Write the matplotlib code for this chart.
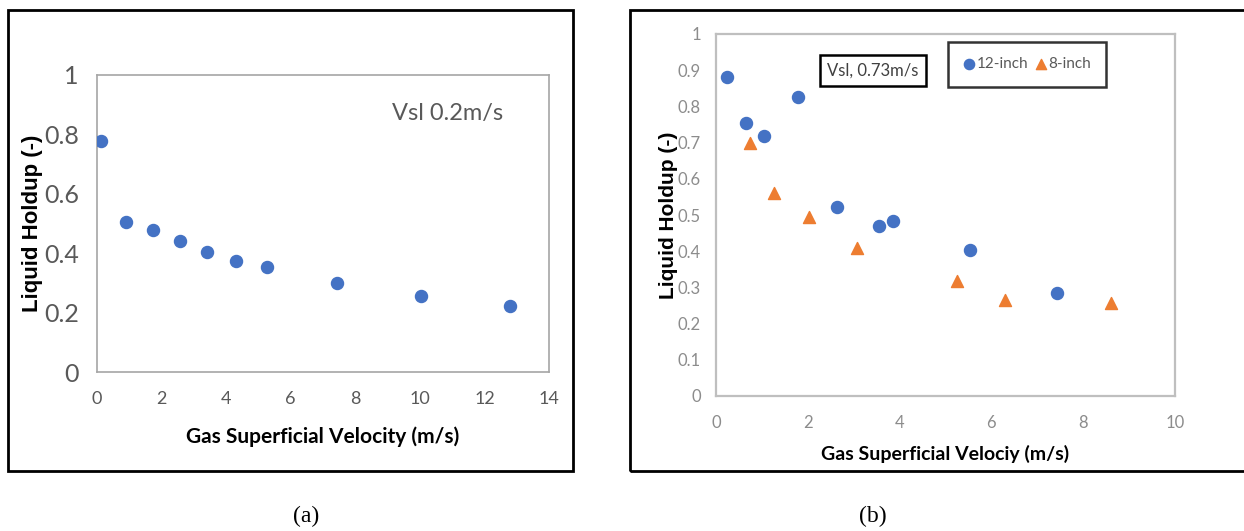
import matplotlib.pyplot as plt
from matplotlib.patches import Rectangle

# panneau (a) : Vsl 0.2 m/s
vsg_a = [0.12, 0.91, 1.74, 2.56, 3.42, 4.32, 5.25, 7.44, 10.02, 12.78]
hl_a = [0.778, 0.504, 0.478, 0.441, 0.405, 0.375, 0.354, 0.299, 0.257, 0.221]

# panneau (b) : Vsl 0.73 m/s, deux diametres
vsg_12 = [0.24, 0.66, 1.05, 1.79, 2.64, 3.56, 3.85, 5.53, 7.43]
hl_12 = [0.880, 0.754, 0.719, 0.827, 0.523, 0.469, 0.483, 0.404, 0.284]
vsg_8 = [0.74, 1.26, 2.02, 3.08, 5.26, 6.29, 8.61]
hl_8 = [0.698, 0.560, 0.494, 0.408, 0.318, 0.264, 0.256]

xticks_a = [0, 2, 4, 6, 8, 10, 12, 14]
yticks_a = [0, 0.2, 0.4, 0.6, 0.8, 1]
xticks_b = [0, 2, 4, 6, 8, 10]
yticks_b = [0, 0.1, 0.2, 0.3, 0.4, 0.5, 0.6, 0.7, 0.8, 0.9, 1]

BLUE = '#4472C4'
ORANGE = '#ED7D31'
NARROW = ['Lato', 'DejaVu Sans']
W, H = 1244, 531

fig = plt.figure(figsize=(W / 100, H / 100), dpi=100)


def px_axes(x0, y0, x1, y1):
    # coordonnees en pixels (origine en haut a gauche) -> fraction de figure
    return fig.add_axes([x0 / W, 1 - y1 / H, (x1 - x0) / W, (y1 - y0) / H])


def px_box(x0, y0, x1, y1, lw=2):
    fig.patches.append(Rectangle((x0 / W, 1 - y1 / H), (x1 - x0) / W, (y1 - y0) / H,
                                 transform=fig.transFigure, fill=False,
                                 edgecolor='black', linewidth=lw, clip_on=False))


def fmt(v):
    return '%g' % v


# cadres exterieurs
px_box(8, 10, 573, 471)
px_box(630, 10, 1260, 471)

# ---- (a)
ax = px_axes(97, 75, 549, 372)
ax.scatter(vsg_a, hl_a, s=75, color=BLUE, zorder=3)
ax.set_xlim(0, 14)
ax.set_ylim(0, 1)
ax.set_xticks(xticks_a)
ax.set_yticks(yticks_a)
ax.set_xticklabels([fmt(v) for v in xticks_a], family=NARROW, fontsize=13, color='#595959')
ax.set_yticklabels([fmt(v) for v in yticks_a], family=NARROW, fontsize=18, color='#595959')
ax.tick_params(axis='x', length=0, pad=14)
ax.tick_params(axis='y', length=0, pad=13)
for sp in ax.spines.values():
    sp.set_color('#a6a6a6')
    sp.set_linewidth(1.2)
ax.set_xlabel('Gas Superficial Velocity (m/s)', family=NARROW, fontsize=15,
              fontweight='bold', labelpad=14)
ax.set_ylabel('Liquid Holdup (-)', family='Liberation Sans', fontsize=16,
              fontweight='bold', labelpad=1)
ax.text(0.652, 0.87, 'Vsl 0.2m/s', transform=ax.transAxes, family=NARROW,
        fontsize=17, color='#595959', ha='left', va='center')

# ---- (b)
bx = px_axes(716, 34, 1175, 396)
bx.scatter(vsg_12, hl_12, s=75, color=BLUE, marker='o', zorder=3, label='12-inch')
bx.scatter(vsg_8, hl_8, s=75, color=ORANGE, marker='^', zorder=3, label='8-inch')
bx.set_xlim(0, 10)
bx.set_ylim(0, 1)
bx.set_xticks(xticks_b)
bx.set_yticks(yticks_b)
bx.set_xticklabels([fmt(v) for v in xticks_b], family=NARROW, fontsize=12, color='#8c8c8c')
bx.set_yticklabels([fmt(v) for v in yticks_b], family=NARROW, fontsize=12, color='#8c8c8c')
bx.tick_params(axis='x', length=0, pad=14)
bx.tick_params(axis='y', length=0, pad=11)
for sp in bx.spines.values():
    sp.set_color('#bfbfbf')
    sp.set_linewidth(1.6)
bx.set_xlabel('Gas Superficial Velociy (m/s)', family=NARROW, fontsize=14,
              fontweight='bold', labelpad=10)
bx.set_ylabel('Liquid Holdup (-)', family='Liberation Sans', fontsize=15,
              fontweight='bold', labelpad=0)
bx.text(0.342, 0.898, 'Vsl, 0.73m/s', transform=bx.transAxes, family=NARROW,
        fontsize=12, color='#404040', ha='center', va='center',
        bbox=dict(boxstyle='square,pad=0.45', facecolor='white', edgecolor='black', linewidth=1.8))
leg = bx.legend(loc='upper left', bbox_to_anchor=(0.505, 0.978), ncol=2, frameon=True,
                fancybox=False, handletextpad=0.1, columnspacing=0.4, borderpad=1.0,
                borderaxespad=0, handlelength=0.8, markerscale=0.85,
                prop={'family': NARROW, 'size': 11})
leg.get_frame().set_edgecolor('black')
leg.get_frame().set_linewidth(1.8)
for t in leg.get_texts():
    t.set_color('#595959')

# legendes des panneaux
fig.text(306 / W, 1 - 516 / H, '(a)', family='Liberation Serif', fontsize=17,
         ha='center', va='center')
fig.text(873 / W, 1 - 516 / H, '(b)', family='Liberation Serif', fontsize=17,
         ha='center', va='center')

fig.savefig('out.png', dpi=100)
